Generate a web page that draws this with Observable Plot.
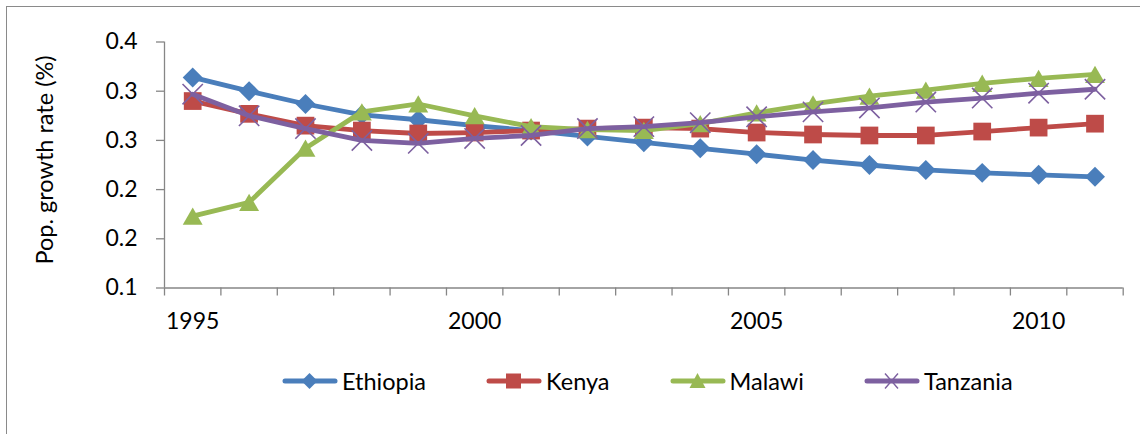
<!DOCTYPE html>
<html>
<head>
<meta charset="utf-8">
<script src="https://cdn.jsdelivr.net/npm/d3@7"></script>
<script src="https://cdn.jsdelivr.net/npm/@observablehq/plot@0.6"></script>
<style>
  body { margin: 0; background: #fff; font-family: Lato, "Liberation Sans", sans-serif; }
  #wrap { position: relative; width: 1140px; height: 434px; overflow: hidden; background: #fff; }
  #frame { position: absolute; left: 6px; top: 6px; width: 1200px; height: 500px;
           border-left: 1.5px solid #8a8a8a; border-top: 1.5px solid #8a8a8a; box-sizing: border-box; pointer-events: none; }
  #legend { display: flex; align-items: center; height: 42px; padding-left: 282px; font-size: 23.5px; color: #000; }
  .item { display: flex; align-items: center; margin-right: 60px; }
  .item svg { margin-right: 4px; }
</style>
</head>
<body>
<div id="wrap"><div id="chart"></div><div id="legend"></div><div id="frame"></div></div>
<script>
// ---- data ----
const years = [1995, 1996, 1997, 1998, 1999, 2000, 2001, 2002, 2003, 2004, 2005, 2006, 2007, 2008, 2009, 2010, 2011];
const countries = ["Ethiopia", "Kenya", "Malawi", "Tanzania"];
const ethiopia = [0.314, 0.300, 0.287, 0.276, 0.271, 0.265, 0.260, 0.254, 0.248, 0.242, 0.236, 0.230, 0.225, 0.220, 0.217, 0.215, 0.213];
const kenya    = [0.290, 0.277, 0.265, 0.260, 0.257, 0.258, 0.260, 0.262, 0.263, 0.262, 0.258, 0.256, 0.255, 0.255, 0.259, 0.263, 0.267];
const malawi   = [0.173, 0.187, 0.242, 0.279, 0.287, 0.275, 0.264, 0.261, 0.260, 0.267, 0.278, 0.287, 0.295, 0.301, 0.308, 0.313, 0.317];
const tanzania = [0.297, 0.275, 0.262, 0.250, 0.247, 0.252, 0.255, 0.262, 0.264, 0.268, 0.274, 0.279, 0.283, 0.289, 0.293, 0.298, 0.302];
const yTicks = [0.1, 0.15, 0.2, 0.25, 0.3, 0.35];
const yTickLabels = ["0.1", "0.2", "0.2", "0.3", "0.3", "0.4"];
const xLabelYears = [1995, 2000, 2005, 2010];
const yLabel = "Pop. growth rate (%)";
const colors = ["#4A7EBB", "#BE4B48", "#98B954", "#7D60A0"];

// ---- build table ----
const valuesByCountry = [ethiopia, kenya, malawi, tanzania];
const symbolCfg = [
  { symbol: "diamond2", r: 9, fill: true, dy: 0 },
  { symbol: "square", r: 10, fill: true, dy: 0 },
  { symbol: "triangle", r: 7.4, fill: true, dy: 2.8 },
  { symbol: "times", r: 9.3, fill: false, dy: 0 }
];
const rows = countries.map((c, k) => years.map((yr, i) => ({ country: c, year: yr, value: valuesByCountry[k][i] })));
const boundaries = years.map(y => y - 0.5).concat([years[years.length - 1] + 0.5]);

const marks = [];
marks.push(Plot.ruleY([0.1], { stroke: "#868686", strokeWidth: 1.3 }));
marks.push(Plot.ruleX([boundaries[0]], { stroke: "#868686", strokeWidth: 1.3 }));
marks.push(Plot.axisX(boundaries, { tickSize: 8, tickFormat: () => "", stroke: "#868686", strokeWidth: 1.3, label: null }));
marks.push(Plot.axisX(xLabelYears, { tickSize: 0, tickPadding: 25, tickFormat: d => String(d), fill: "#000", fontSize: 23, label: null }));
marks.push(Plot.axisY(yTicks, { tickSize: 8, tickFormat: () => "", stroke: "#868686", strokeWidth: 1.3, label: null }));
marks.push(Plot.axisY(yTicks, { tickSize: 0, tickPadding: 27, tickFormat: d => yTickLabels[yTicks.indexOf(d)], fill: "#000", fontSize: 23, label: null }));
marks.push(Plot.text([yLabel], { text: d => d, frameAnchor: "left", textAnchor: "middle", lineAnchor: "middle", dx: -119, dy: -5, rotate: -90, fontSize: 23.5, fill: "#000" }));

countries.forEach((c, k) => {
  const cfg = symbolCfg[k];
  marks.push(Plot.line(rows[k], { x: "year", y: "value", stroke: colors[k], strokeWidth: 4.8, strokeLinejoin: "round", strokeLinecap: "round" }));
  if (cfg.fill) {
    marks.push(Plot.dot(rows[k], { x: "year", y: "value", symbol: cfg.symbol, r: cfg.r, fill: colors[k], stroke: "none", dy: cfg.dy }));
  } else {
    marks.push(Plot.dot(rows[k], { x: "year", y: "value", symbol: cfg.symbol, r: cfg.r, fill: "none", stroke: colors[k], strokeWidth: 1.6 }));
  }
});

const chart = Plot.plot({
  width: 1140,
  height: 360,
  marginLeft: 164,
  marginRight: 17.3,
  marginTop: 41.5,
  marginBottom: 72.5,
  x: { type: "linear", domain: [boundaries[0], boundaries[boundaries.length - 1]] },
  y: { type: "linear", domain: [0.1, 0.35] },
  style: { fontFamily: "Lato, 'Liberation Sans', sans-serif", fontSize: "23px", background: "transparent", overflow: "visible", color: "#000" },
  marks
});
document.getElementById("chart").appendChild(chart);

// ---- legend ----
const swatch = k => {
  const c = colors[k];
  let m = "";
  if (k === 0) m = `<path d="M27.5,2 L35.5,10 L27.5,18 L19.5,10 Z" fill="${c}"/>`;
  if (k === 1) m = `<rect x="20" y="2.5" width="15" height="15" fill="${c}"/>`;
  if (k === 2) m = `<path d="M27.5,2 L35.5,17 L19.5,17 Z" fill="${c}"/>`;
  if (k === 3) m = `<path d="M21,2.5 L34,17.5 M21,17.5 L34,2.5" stroke="${c}" stroke-width="1.4" fill="none"/>`;
  return `<svg width="56" height="20" viewBox="0 0 56 20"><line x1="3" y1="10" x2="53" y2="10" stroke="${c}" stroke-width="5" stroke-linecap="round"/>${m}</svg>`;
};
const legend = document.getElementById("legend");
countries.forEach((c, k) => {
  const div = document.createElement("div");
  div.className = "item";
  div.innerHTML = swatch(k) + `<span>${c}</span>`;
  legend.appendChild(div);
});
</script>
</body>
</html>
